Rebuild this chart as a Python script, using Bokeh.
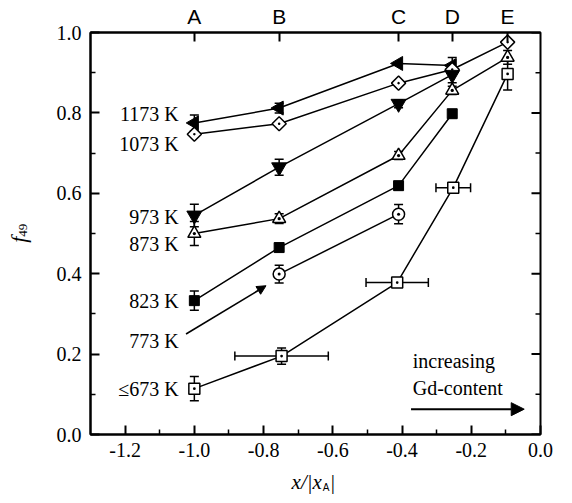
import math
from bokeh.plotting import figure
from bokeh.models import (Range1d, LinearAxis, FixedTicker, NumeralTickFormatter, Label,
                          Arrow, NormalHead, Whisker, TeeHead, ColumnDataSource)
from bokeh.embed import file_html
from bokeh.resources import INLINE

# composition positions (top axis)
top_labels = ["A", "B", "C", "D", "E"]
top_pos = [-1.0, -0.755, -0.41, -0.255, -0.095]

# series: x, y, y-error
x_1173 = [-1.0, -0.755, -0.41, -0.255]
y_1173 = [0.775, 0.812, 0.923, 0.918]
e_1173 = [0.02, 0.012, 0.0, 0.02]

x_1073 = [-1.0, -0.755, -0.41, -0.255, -0.095]
y_1073 = [0.747, 0.773, 0.874, 0.908, 0.976]
e_1073 = [0.0, 0.0, 0.0, 0.0, 0.0]

x_973 = [-1.0, -0.755, -0.41, -0.255]
y_973 = [0.545, 0.665, 0.823, 0.895]
e_973 = [0.028, 0.02, 0.01, 0.02]

x_873 = [-1.0, -0.755, -0.41, -0.255, -0.095]
y_873 = [0.500, 0.537, 0.694, 0.856, 0.938]
e_873 = [0.03, 0.012, 0.01, 0.01, 0.017]

x_823 = [-1.0, -0.755, -0.41, -0.255]
y_823 = [0.333, 0.465, 0.619, 0.798]
e_823 = [0.024, 0.01, 0.01, 0.01]

x_773 = [-0.755, -0.41]
y_773 = [0.399, 0.548]
e_773 = [0.022, 0.024]

x_673 = [-1.0, -0.748, -0.414, -0.252, -0.095]
y_673 = [0.114, 0.195, 0.378, 0.614, 0.897]
e_673 = [0.03, 0.02, 0.01, 0.01, 0.04]
xe_673 = [0.0, 0.135, 0.09, 0.05, 0.0]

# series labels
temp_labels = ["1173 K", "1073 K", "973 K", "873 K", "823 K", "773 K", "\u2264673 K"]
temp_label_y = [0.798, 0.723, 0.540, 0.474, 0.332, 0.233, 0.112]
temp_label_x = -1.045

xticks = [-1.2, -1.0, -0.8, -0.6, -0.4, -0.2, 0.0]
xminor = [-1.1, -0.9, -0.7, -0.5, -0.3, -0.1]
yticks = [0.0, 0.2, 0.4, 0.6, 0.8, 1.0]
yminor = [0.1, 0.3, 0.5, 0.7, 0.9]

X_MIN, X_MAX = -1.3, 0.0
Y_MIN, Y_MAX = 0.0, 1.0

SERIF = "Liberation Serif"
SANS = "Liberation Sans"

p = figure(width=556, height=495, output_backend="svg", toolbar_location=None,
           x_range=Range1d(X_MIN, X_MAX), y_range=Range1d(Y_MIN, Y_MAX),
           min_border_left=90, min_border_right=16, min_border_top=32, min_border_bottom=61)
p.grid.visible = False
p.outline_line_color = "black"
p.outline_line_width = 2
p.background_fill_color = "white"
p.border_fill_color = "white"


def style_axis(ax, font=SERIF):
    ax.axis_line_width = 2
    ax.axis_line_color = "black"
    ax.major_tick_in = 9
    ax.major_tick_out = 0
    ax.minor_tick_in = 5
    ax.minor_tick_out = 0
    ax.major_tick_line_width = 2
    ax.minor_tick_line_width = 1.5
    ax.major_label_text_font = font
    ax.major_label_text_font_size = "20px"
    ax.major_label_text_color = "black"


xa = p.xaxis[0]
xa.ticker = FixedTicker(ticks=xticks, minor_ticks=xminor)
xa.formatter = NumeralTickFormatter(format="0.0")
style_axis(xa)
xa.major_label_standoff = 8

ya = p.yaxis[0]
ya.ticker = FixedTicker(ticks=yticks, minor_ticks=yminor)
ya.formatter = NumeralTickFormatter(format="0.0")
style_axis(ya)
ya.major_label_standoff = 9

ta = LinearAxis(ticker=FixedTicker(ticks=top_pos, minor_ticks=[]),
                major_label_overrides={t: l for t, l in zip(top_pos, top_labels)})
style_axis(ta, SANS)
ta.major_label_text_font_size = "21px"
ta.major_label_standoff = 5
p.add_layout(ta, "above")

# right-side inward ticks (half of each dash is clipped by the frame)
p.scatter([X_MAX] * len(yticks), yticks, marker="dash", size=18, line_color="black", line_width=2)
p.scatter([X_MAX] * len(yminor), yminor, marker="dash", size=10, line_color="black", line_width=1.5)


def errbars(xs, ys, es, xes=None):
    xv = [x for x, e in zip(xs, es) if e > 0]
    yl = [y - e for y, e in zip(ys, es) if e > 0]
    yh = [y + e for y, e in zip(ys, es) if e > 0]
    if xv:
        src = ColumnDataSource(dict(x=xv, lo=yl, hi=yh))
        p.add_layout(Whisker(source=src, base="x", lower="lo", upper="hi", dimension="height",
                             line_width=1.5, line_color="black",
                             upper_head=TeeHead(size=9, line_width=1.5),
                             lower_head=TeeHead(size=9, line_width=1.5)))
    if xes:
        yv = [y for y, e in zip(ys, xes) if e > 0]
        xl = [x - e for x, e in zip(xs, xes) if e > 0]
        xh = [x + e for x, e in zip(xs, xes) if e > 0]
        src = ColumnDataSource(dict(y=yv, lo=xl, hi=xh))
        p.add_layout(Whisker(source=src, base="y", lower="lo", upper="hi", dimension="width",
                             line_width=1.5, line_color="black",
                             upper_head=TeeHead(size=9, line_width=1.5),
                             lower_head=TeeHead(size=9, line_width=1.5)))


series = [
    (x_1173, y_1173, e_1173, None, dict(marker="triangle", size=14, angle=math.pi / 2,
                                        fill_color="black", line_color="black")),
    (x_1073, y_1073, e_1073, None, dict(marker="square_dot", size=10, angle=math.pi / 4,
                                        fill_color="white", line_color="black", line_width=1.5)),
    (x_973, y_973, e_973, None, dict(marker="inverted_triangle", size=15,
                                     fill_color="black", line_color="black")),
    (x_873, y_873, e_873, None, dict(marker="triangle_dot", size=13,
                                     fill_color="white", line_color="black", line_width=1.5)),
    (x_823, y_823, e_823, None, dict(marker="square", size=10,
                                     fill_color="black", line_color="black")),
    (x_773, y_773, e_773, None, dict(marker="circle_dot", size=12,
                                     fill_color="white", line_color="black", line_width=1.5)),
    (x_673, y_673, e_673, xe_673, dict(marker="square_dot", size=11,
                                       fill_color="white", line_color="black", line_width=1.5)),
]

for xs, ys, es, xes, _ in series:
    p.line(xs, ys, line_color="black", line_width=1.5)
for xs, ys, es, xes, _ in series:
    errbars(xs, ys, es, xes)
for xs, ys, es, xes, st in series:
    p.scatter(xs, ys, **st)

for t, yv in zip(temp_labels, temp_label_y):
    p.add_layout(Label(x=temp_label_x, y=yv, text=t, text_align="right", text_baseline="middle",
                       text_font=SERIF, text_font_size="20px", text_color="black"))

# 773 K pointer arrow
p.add_layout(Arrow(x_start=-1.024, y_start=0.25, x_end=-0.793, y_end=0.37, line_width=1.5,
                   end=NormalHead(size=9, fill_color="black", line_color="black")))

# increasing Gd-content annotation
p.add_layout(Label(x=-0.369, y=0.183, text="increasing", text_align="left", text_baseline="middle",
                   text_font=SERIF, text_font_size="20px", text_color="black"))
p.add_layout(Label(x=-0.369, y=0.116, text="Gd-content", text_align="left", text_baseline="middle",
                   text_font=SERIF, text_font_size="20px", text_color="black"))
p.add_layout(Arrow(x_start=-0.374, y_start=0.063, x_end=-0.047, y_end=0.063, line_width=2,
                   end=NormalHead(size=13, fill_color="black", line_color="black")))

# axis titles: placed in side panels (with spare room) so that the frame does not clip them
XT_X, XT_Y = -0.649, -0.119
p.add_layout(Label(x=XT_X, y=XT_Y, x_offset=6, text="x/|x", text_align="right",
                   text_baseline="middle", text_font=SERIF, text_font_style="italic",
                   text_font_size="21px", text_color="black"), "below")
p.add_layout(Label(x=XT_X, y=XT_Y, x_offset=7, y_offset=-5, text="A", text_align="left",
                   text_baseline="middle", text_font=SANS, text_font_size="10px",
                   text_color="black"), "right")
p.add_layout(Label(x=XT_X, y=XT_Y, x_offset=15, text="|", text_align="left",
                   text_baseline="middle", text_font=SERIF, text_font_size="21px",
                   text_color="black"), "right")

YT_X, YT_Y = -1.507, 0.492
p.add_layout(Label(x=YT_X, y=YT_Y, text="f", angle=math.pi / 2, text_align="right",
                   text_baseline="middle", text_font=SERIF, text_font_style="italic",
                   text_font_size="22px", text_color="black"), "left")
p.add_layout(Label(x=YT_X, y=YT_Y, x_offset=4, text="49", angle=math.pi / 2, text_align="left",
                   text_baseline="middle", text_font=SERIF, text_font_size="13px",
                   text_color="black"), "left")

open("out.html", "w").write(file_html(p, INLINE))
